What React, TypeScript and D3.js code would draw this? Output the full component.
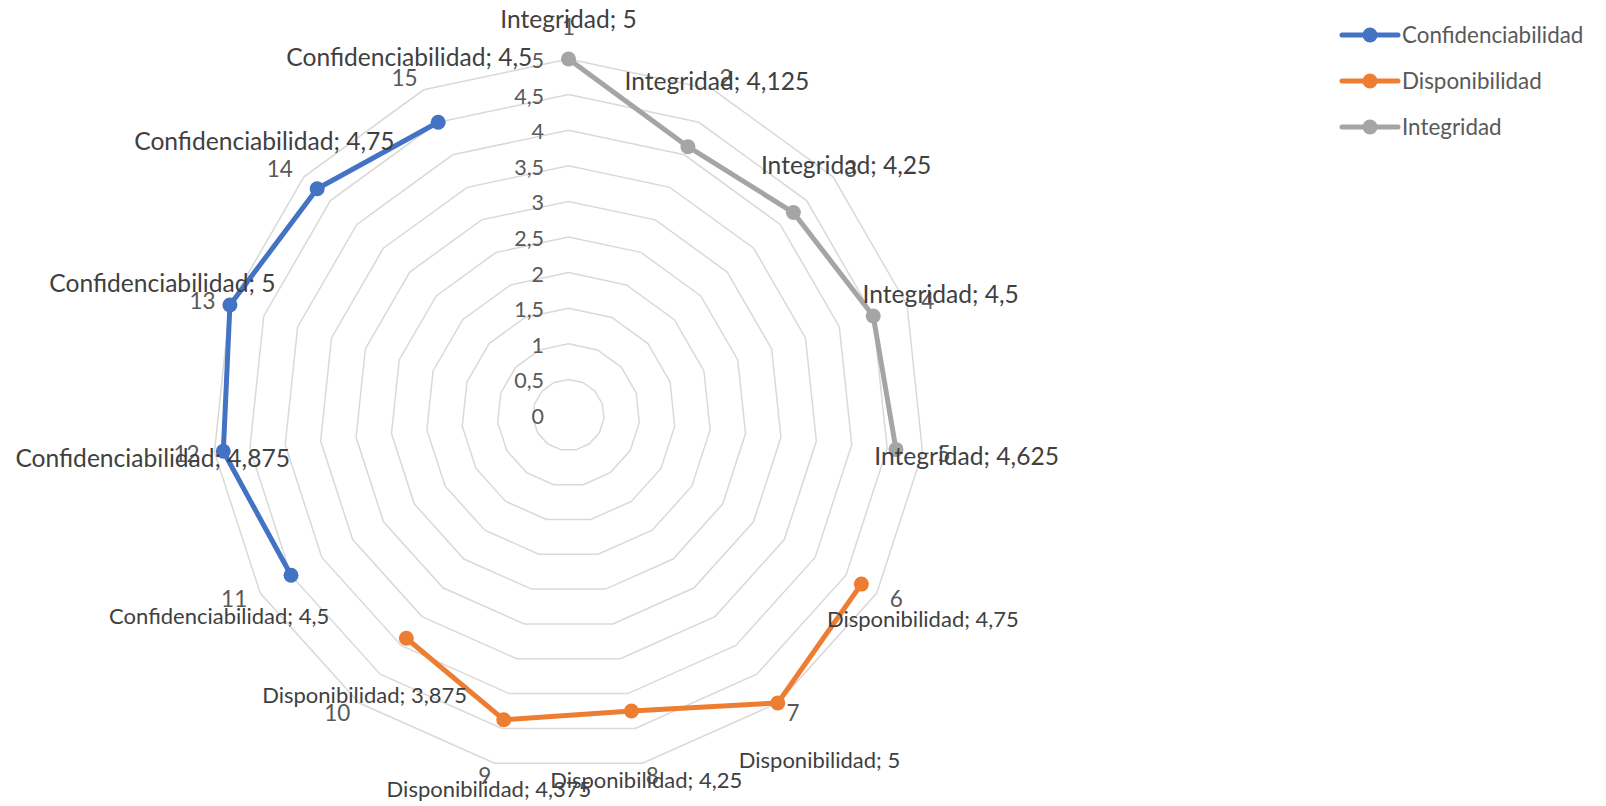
import React from "react";
import * as d3 from "d3";

const categories = ["1", "2", "3", "4", "5", "6", "7", "8", "9", "10", "11", "12", "13", "14", "15"];
const seriesNames = ["Confidenciabilidad", "Disponibilidad", "Integridad"];
const confidenciabilidad: (number | null)[] = [null, null, null, null, null, null, null, null, null, null, 4.5, 4.875, 5, 4.75, 4.5];
const disponibilidad: (number | null)[] = [null, null, null, null, null, 4.75, 5, 4.25, 4.375, 3.875, null, null, null, null, null];
const integridad: (number | null)[] = [5, 4.125, 4.25, 4.5, 4.625, null, null, null, null, null, null, null, null, null, null];
const tickValues = [0, 0.5, 1, 1.5, 2, 2.5, 3, 3.5, 4, 4.5, 5];
const tickLabels = ["0", "0,5", "1", "1,5", "2", "2,5", "3", "3,5", "4", "4,5", "5"];
const colors = ["#4472C4", "#ED7D31", "#A5A5A5"];

const W = 1606;
const H = 806;
const cx = 568.5;
const cy = 415;
const R = 356;
const FONT = "Lato, 'Noto Sans', sans-serif";
const BIG = 24.6;
const SMALL = 22.0;

const fmt = (v: number) => String(v).replace(".", ",");

export default function App() {
  const r = d3.scaleLinear().domain([0, 5]).range([0, R]);
  const n = categories.length;
  const ang = (i: number) => (i * 2 * Math.PI) / n;
  const pt = (i: number, v: number): [number, number] => [cx + r(v) * Math.sin(ang(i)), cy - r(v) * Math.cos(ang(i))];

  const ring = (v: number) => {
    const pts = categories.map((_, i) => pt(i, v));
    return d3.line()(pts.concat([pts[0]])) as string;
  };

  const series = [confidenciabilidad, disponibilidad, integridad];
  // label font size per series / point (the first Confidenciabilidad label is smaller in the original)
  const labelSize = (si: number, i: number) => (si === 1 || (si === 0 && i === 10) ? SMALL : BIG);

  const line = d3
    .line<[number, number | null]>()
    .defined((d) => d[1] != null)
    .x((d) => pt(d[0], d[1] as number)[0])
    .y((d) => pt(d[0], d[1] as number)[1]);

  return (
    <svg width={W} height={H} style={{ position: "absolute", left: 0, top: 0, background: "#fff" }} fontFamily={FONT}>
      {tickValues.map((v) => (
        <path key={"g" + v} d={ring(v)} fill="none" stroke="#D9D9D9" strokeWidth={1.5} />
      ))}
      {tickValues.map((v, k) => (
        <text key={"t" + v} x={cx - 24.5} y={cy - r(v) + 1.5} dy="0.35em" textAnchor="end" fontSize={21.5} fill="#595959">
          {tickLabels[k]}
        </text>
      ))}
      {categories.map((c, i) => {
        const ux = Math.sin(ang(i));
        const uy = -Math.cos(ang(i));
        const [vx, vy] = pt(i, 5);
        let anchor = "middle";
        let x = vx;
        let y = vy + 12.5 * uy;
        if (Math.abs(ux) < 0.05) {
          y = vy + 32 * uy;
        } else if (ux > 0) {
          anchor = "start";
          x = vx + 15 * ux;
        } else {
          anchor = "end";
          x = vx + 15 * ux;
        }
        return (
          <text key={"c" + c} x={x} y={y} dy="0.36em" textAnchor={anchor} fontSize={22.5} fill="#595959">
            {c}
          </text>
        );
      })}
      {series.map((s, si) => (
        <g key={"s" + si}>
          <path
            d={line(s.map((v, i) => [i, v] as [number, number | null])) as string}
            fill="none"
            stroke={colors[si]}
            strokeWidth={5}
            strokeLinejoin="round"
            strokeLinecap="round"
          />
          {s.map((v, i) =>
            v == null ? null : (
              <circle key={i} cx={pt(i, v)[0]} cy={pt(i, v)[1]} r={7.5} fill={colors[si]} />
            )
          )}
        </g>
      ))}
      {series.map((s, si) =>
        s.map((v, i) => {
          if (v == null) return null;
          const [px, py] = pt(i, v);
          const ux = Math.sin(ang(i));
          const uy = -Math.cos(ang(i));
          const fs = labelSize(si, i);
          const d = fs === BIG ? 71 : 71 + (si === 0 ? 12 : 0);
          const lx = px + d * ux;
          const ly = Math.max(py + d * uy, 19);
          return (
            <text key={"l" + si + "-" + i} x={lx} y={ly} dy="0.35em" textAnchor="middle" fontSize={fs} fill="#404040">
              {seriesNames[si] + "; " + fmt(v)}
            </text>
          );
        })
      )}
      {seriesNames.map((name, k) => {
        const y = 35 + k * 46;
        return (
          <g key={"lg" + k}>
            <line x1={1342} x2={1398} y1={y} y2={y} stroke={colors[k]} strokeWidth={5} strokeLinecap="round" />
            <circle cx={1370} cy={y} r={7.5} fill={colors[k]} />
            <text x={1402} y={y} dy="0.35em" fontSize={22.4} fill="#595959">
              {name}
            </text>
          </g>
        );
      })}
    </svg>
  );
}
